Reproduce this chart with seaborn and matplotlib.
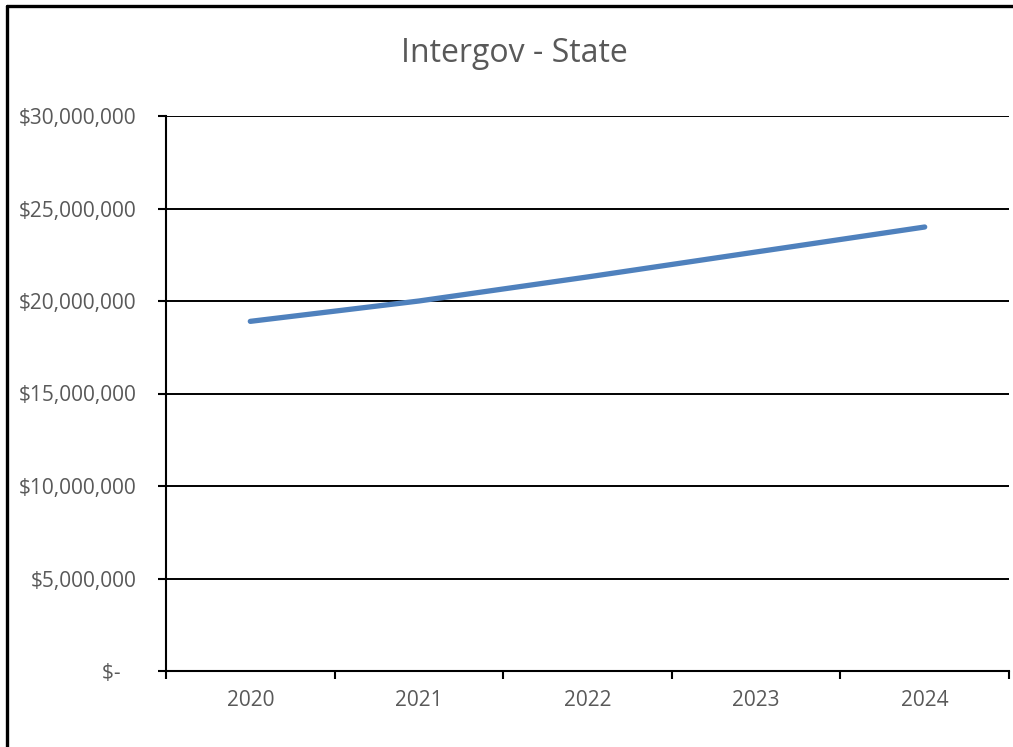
import matplotlib
matplotlib.use("Agg")
import matplotlib.pyplot as plt
import seaborn as sns
import numpy as np
import pandas as pd
from matplotlib.lines import Line2D

# data
years = ["2020", "2021", "2022", "2023", "2024"]
amounts = [18_900_000, 20_000_000, 21_300_000, 22_650_000, 24_000_000]
y_ticks = [0, 5_000_000, 10_000_000, 15_000_000, 20_000_000, 25_000_000, 30_000_000]
y_labels = ["$-   ", "$5,000,000", "$10,000,000", "$15,000,000",
            "$20,000,000", "$25,000,000", "$30,000,000"]
title = "Intergov - State"

sns.set_style("white")
plt.rcParams["font.family"] = ["Open Sans", "DejaVu Sans"]
text_col = "#595959"

df = pd.DataFrame({"pos": np.arange(len(years)), "amount": amounts})

fig = plt.figure(figsize=(10.13, 7.47), dpi=100)
ax = fig.add_axes([166 / 1013, 76 / 747, (1009 - 166) / 1013, (671 - 116) / 747])

sns.lineplot(data=df, x="pos", y="amount", ax=ax, color="#4F81BD",
             linewidth=3.8, solid_capstyle="round")

ax.set_xlim(-0.5, len(years) - 0.5)
ax.set_ylim(0, 30_000_000)
ax.set_yticks(y_ticks)
ax.set_yticklabels(y_labels)
ax.set_xticks(np.arange(len(years)))
ax.set_xticklabels(years)
ax.set_xticks(np.arange(len(years) + 1) - 0.5, minor=True)
ax.tick_params(axis="x", which="major", length=0, pad=14, labelsize=15, labelcolor=text_col)
ax.tick_params(axis="x", which="minor", length=6, width=1.5, color="black", direction="out", bottom=True)
ax.tick_params(axis="y", length=6, width=1.5, color="black", direction="out", left=True,
               pad=15, labelsize=15, labelcolor=text_col)
ax.set_xlabel("")
ax.set_ylabel("")

ax.grid(axis="y", color="black", linewidth=1.4)
ax.set_axisbelow(True)
for side in ["top", "right"]:
    ax.spines[side].set_visible(False)
for side in ["left", "bottom"]:
    ax.spines[side].set_color("black")
    ax.spines[side].set_linewidth(1.5)

fig.text(514 / 1013, 1 - 53 / 747, title, ha="center", va="center",
         fontsize=23, color=text_col)

# outer chart frame (cut off on right and bottom)
fy = 1 - 6 / 747
fx = 7 / 1013
fig.add_artist(Line2D([fx, 1.0], [fy, fy], transform=fig.transFigure, color="black", linewidth=2.4))
fig.add_artist(Line2D([fx, fx], [0.0, fy], transform=fig.transFigure, color="black", linewidth=2.4))

fig.savefig("out.png", dpi=100)
